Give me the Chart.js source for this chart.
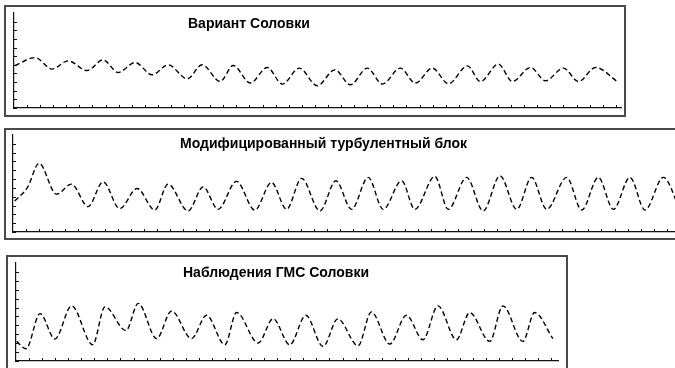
<!DOCTYPE html>
<html>
<head>
<meta charset="utf-8">
<script src="https://cdn.jsdelivr.net/npm/chart.js@4/dist/chart.umd.min.js"></script>
<style>
  html, body { margin: 0; padding: 0; background: #ffffff; width: 675px; height: 368px; overflow: hidden; }
  .panel { position: absolute; box-sizing: border-box; border: 2px solid #4a4a4a; background: #ffffff; }
  .panel canvas { display: block; }
</style>
</head>
<body>
<div class="panel" style="left:4px; top:5px; width:622px; height:112px;"><canvas id="chartVariant" width="618" height="108"></canvas></div>
<div class="panel" style="left:4px; top:128px; width:694px; height:112px;"><canvas id="chartTurbulent" width="690" height="108"></canvas></div>
<div class="panel" style="left:6px; top:255px; width:562px; height:130px;"><canvas id="chartObserved" width="558" height="126"></canvas></div>

<script>
// titles
const titleVariant = "Вариант Соловки"
const titleTurbulent = "Модифицированный турбулентный блок"
const titleObserved = "Наблюдения ГМС Соловки"

// Вариант Соловки (x in tick units, y in tick units)
const variantX = [0.08, 1.61, 2.91, 4.13, 5.59, 6.81, 7.96, 9.26, 10.56, 11.78, 13.24, 14.38, 15.76, 16.76, 18.06, 19.36, 20.51, 21.81, 23.18, 24.52, 25.71, 27.01, 28.16, 29.53, 30.68, 31.98, 33.21, 34.66, 35.65, 37.03, 38.10, 39.48, 40.63, 42.00, 43.15, 44.45, 46.21]
const variantY = [4.92, 5.84, 4.50, 5.46, 4.34, 5.58, 4.11, 5.27, 3.85, 5.00, 3.38, 5.00, 3.07, 4.92, 2.89, 4.69, 2.77, 4.62, 2.58, 4.42, 2.69, 4.62, 2.77, 4.62, 2.89, 4.62, 2.81, 4.88, 3.07, 5.08, 3.07, 4.69, 3.15, 4.62, 3.07, 4.69, 2.96]

// Модифицированный турбулентный блок
const turbulentX = [0.13, 1.12, 1.99, 3.32, 4.47, 5.74, 6.89, 8.16, 9.49, 10.84, 11.86, 13.39, 14.54, 15.68, 17.09, 18.49, 19.77, 20.92, 22.07, 23.47, 24.69, 25.89, 27.16, 28.31, 29.72, 30.73, 32.26, 33.28, 34.69, 35.96, 37.24, 38.52, 39.66, 40.81, 42.34, 43.49, 44.76, 45.91, 47.18, 48.33, 49.73, 51.0]
const turbulentY = [3.52, 5.09, 7.79, 4.29, 5.43, 2.88, 5.69, 2.65, 4.94, 2.49, 5.43, 2.38, 5.12, 2.57, 5.74, 2.49, 5.62, 2.57, 6.08, 2.38, 5.81, 2.57, 6.19, 2.57, 5.81, 2.57, 6.31, 2.57, 6.19, 2.38, 6.38, 2.57, 6.19, 2.57, 6.19, 2.49, 6.19, 2.57, 6.19, 2.49, 6.19, 2.57]

// Наблюдения ГМС Соловки
const observedX = [0.05, 0.77, 1.84, 2.98, 4.26, 5.87, 6.81, 8.42, 9.36, 10.77, 11.91, 13.44, 14.59, 15.99, 16.89, 18.54, 19.69, 20.96, 22.19, 23.51, 24.64, 26.19, 27.21, 28.62, 29.89, 31.16, 32.31, 33.72, 34.74, 36.27, 37.28, 38.81, 39.71, 41.11]
const observedY = [2.20, 1.37, 5.32, 2.47, 6.19, 1.82, 6.08, 3.42, 6.47, 2.51, 5.62, 2.51, 5.13, 1.82, 5.44, 2.02, 4.75, 1.82, 5.13, 1.63, 4.73, 1.71, 5.51, 1.90, 5.13, 2.39, 6.19, 2.39, 5.44, 2.20, 6.19, 2.20, 5.44, 2.51]

const insideTicks = {
  id: "insideTicks",
  afterDraw(chart) {
    const { ctx, chartArea, scales } = chart
    ctx.save()
    ctx.strokeStyle = "#111111"
    ctx.lineWidth = 1
    ctx.beginPath()
    scales.y.ticks.forEach((tick) => {
      if (tick.value > 10) return
      const py = Math.round(scales.y.getPixelForValue(tick.value)) + 0.5
      ctx.moveTo(chartArea.left, py)
      ctx.lineTo(chartArea.left + 3, py)
    })
    scales.x.ticks.forEach((tick) => {
      if (tick.value === 0) return
      const px = Math.round(scales.x.getPixelForValue(tick.value)) + 0.5
      ctx.moveTo(px, chartArea.bottom)
      ctx.lineTo(px, chartArea.bottom - 3)
    })
    ctx.stroke()
    ctx.restore()
  }
}

const panelTitle = {
  id: "panelTitle",
  afterDraw(chart, args, opts) {
    const { ctx } = chart
    ctx.save()
    ctx.fillStyle = "#000000"
    ctx.font = "bold 14px 'Liberation Sans', Arial, sans-serif"
    ctx.textAlign = "left"
    ctx.textBaseline = "middle"
    ctx.fillText(opts.text, opts.x, opts.y)
    ctx.restore()
  }
}

function makePanel(id, xs, ys, xMax, title, titleX, titleY, padding) {
  const points = xs.map((x, i) => ({ x, y: ys[i] }))
  return new Chart(document.getElementById(id), {
    type: "line",
    data: {
      datasets: [{
        data: points,
        borderColor: "#000000",
        borderWidth: 1.4,
        borderDash: [5, 3],
        pointRadius: 0,
        fill: false,
        cubicInterpolationMode: "monotone"
      }]
    },
    options: {
      responsive: false,
      animation: false,
      devicePixelRatio: 1,
      layout: { padding },
      plugins: {
        legend: { display: false },
        tooltip: { enabled: false },
        title: { display: false },
        panelTitle: { text: title, x: titleX, y: titleY }
      },
      scales: {
        x: {
          type: "linear",
          min: 0,
          max: xMax,
          ticks: { display: false, stepSize: 1, includeBounds: false },
          grid: { display: false, drawTicks: false },
          border: { display: true, color: "#111111", width: 1.2 }
        },
        y: {
          type: "linear",
          min: 0,
          max: 11,
          ticks: { display: false, stepSize: 1, includeBounds: false },
          grid: { display: false, drawTicks: false },
          border: { display: true, color: "#111111", width: 1.2 }
        }
      }
    },
    plugins: [insideTicks, panelTitle]
  })
}

makePanel("chartVariant", variantX, variantY, 46.4, titleVariant, 182, 17.5,
  { left: 8, top: 6, right: 3, bottom: 7 })
makePanel("chartTurbulent", turbulentX, turbulentY, 52.0, titleTurbulent, 174, 14,
  { left: 7, top: 5, right: 3, bottom: 6 })
makePanel("chartObserved", observedX, observedY, 41.5, titleObserved, 175, 16.5,
  { left: 8, top: 6, right: 8, bottom: 22 })
</script>
</body>
</html>
